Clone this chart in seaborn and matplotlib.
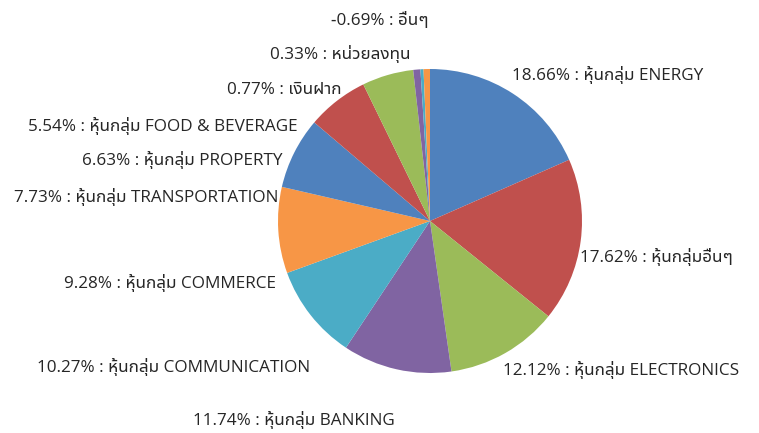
import numpy as np
import matplotlib
matplotlib.use("Agg")
import matplotlib.pyplot as plt
import seaborn as sns

# portfolio share by group (%)
groups = ["หุ้นกลุ่ม ENERGY", "หุ้นกลุ่มอื่นๆ", "หุ้นกลุ่ม ELECTRONICS", "หุ้นกลุ่ม BANKING",
          "หุ้นกลุ่ม COMMUNICATION", "หุ้นกลุ่ม COMMERCE", "หุ้นกลุ่ม TRANSPORTATION",
          "หุ้นกลุ่ม PROPERTY", "หุ้นกลุ่ม FOOD & BEVERAGE", "เงินฝาก", "หน่วยลงทุน", "อื่นๆ"]
shares = [18.66, 17.62, 12.12, 11.74, 10.27, 9.28, 7.73, 6.63, 5.54, 0.77, 0.33, -0.69]

# excel 2010 default colours
excel_colors = ["#4F81BD", "#C0504D", "#9BBB59", "#8064A2", "#4BACC6", "#F79646"]

# label anchors in pie-radius units, (x, y, ha)
label_pos = [(0.54, 0.96, "left"), (0.99, -0.24, "left"), (0.48, -0.98, "left"),
             (-0.23, -1.31, "right"), (-0.79, -0.96, "right"), (-1.01, -0.41, "right"),
             (-1.0, 0.16, "right"), (-0.97, 0.40, "right"), (-0.87, 0.625, "right"),
             (-0.58, 0.86, "right"), (-0.13, 1.10, "right"), (-0.33, 1.32, "center")]

sns.set_theme(style="white")
plt.rcParams["font.family"] = ["Noto Sans Thai UI", "Open Sans", "DejaVu Sans"]

palette = sns.color_palette(excel_colors)
colors = [palette[i % len(palette)] for i in range(len(shares))]

fig = plt.figure(figsize=(7.59, 4.33), dpi=100)
ax = fig.add_axes([0, 0, 1, 1])

ax.pie(np.abs(shares), colors=colors, startangle=90, counterclock=False,
       wedgeprops=dict(linewidth=0))

for name, v, (x, y, ha) in zip(groups, shares, label_pos):
    ax.text(x, y, f"{v:.2f}% : {name}", ha=ha, va="center", fontsize=12.3, color="#262626")

# scale: pie radius = 152 px, centre at (430, 221) px
r = 152.0
ax.set_xlim(-430 / r, (759 - 430) / r)
ax.set_ylim(-(433 - 221) / r, 221 / r)
ax.axis("off")

fig.savefig("out.png", dpi=100)
